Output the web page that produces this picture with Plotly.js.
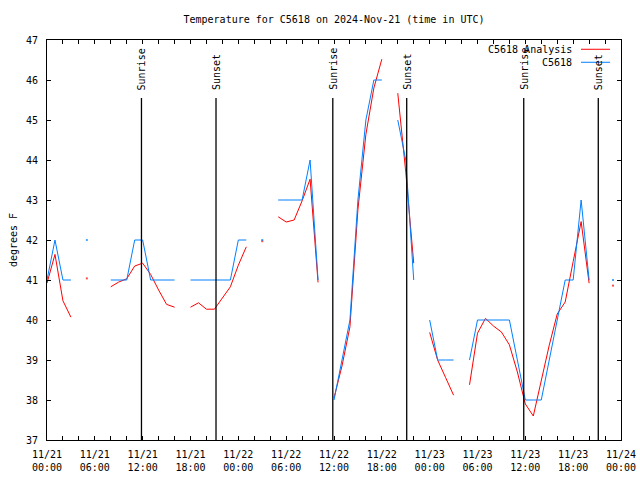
<!DOCTYPE html>
<html>
<head>
<meta charset="utf-8">
<script src="https://cdn.plot.ly/plotly-3.0.1.min.js"></script>
<style>html,body{margin:0;padding:0;background:#fff;}#chart{width:640px;height:480px;}</style>
</head>
<body>
<div id="chart"></div>
<script>
// Hours since 2024-11-21 00:00 UTC
const hours = [0,1,2,3,4,5,6,7,8,9,10,11,12,13,14,15,16,17,18,19,20,21,22,23,24,25,26,27,28,29,30,31,32,33,34,35,36,37,38,39,40,41,42,43,44,45,46,47,48,49,50,51,52,53,54,55,56,57,58,59,60,61,62,63,64,65,66,67,68,69,70,71];
// Observed C5618 temperature (deg F); null = missing
const observed = [41,42,41,41,null,42,null,null,41,41,41,42,42,41,41,41,41,null,41,41,41,41,41,41,42,42,null,42,null,43,43,43,43,44,41,null,38,39,40,43,45,46,46,null,45,44,41,null,40,39,39,39,null,39,40,40,40,40,40,39,38,38,38,39,40,41,41,43,41,null,null,41];
// C5618 Analysis (deg F)
const analysis = [40.92,41.64,40.48,40.07,null,41.04,null,null,40.83,40.95,41.03,41.35,41.42,41.14,40.75,40.39,40.32,null,40.32,40.43,40.27,40.27,40.55,40.83,41.37,41.83,null,41.97,null,42.58,42.45,42.5,42.98,43.52,40.94,null,38.05,38.85,39.83,42.76,44.64,45.8,46.52,null,45.67,43.7,41.42,null,39.69,39.0,38.56,38.12,null,38.38,39.67,40.04,39.85,39.7,39.38,38.7,37.9,37.6,38.48,39.37,40.15,40.45,41.46,42.46,40.92,null,null,40.86];
const seriesNames = ["C5618 Analysis","C5618"];
const seriesColors = ["#ff0000","#0080ff"];
// Sun events (hours since 11/21 00:00)
const sunLabels = ["Sunrise","Sunset","Sunrise","Sunset","Sunrise","Sunset"];
const sunHours = [11.85,21.2,35.85,45.12,59.8,69.15];
// X tick labels
const tickHours = [0,6,12,18,24,30,36,42,48,54,60,66,72];
const tickDates = ["11/21","11/21","11/21","11/21","11/22","11/22","11/22","11/22","11/23","11/23","11/23","11/23","11/24"];
const tickTimes = ["00:00","06:00","12:00","18:00","00:00","06:00","12:00","18:00","00:00","06:00","12:00","18:00","00:00"];

const FONT = {family:"DejaVu Sans Mono, Liberation Mono, monospace", size:10, color:"#000"};

function isoSizes(arr){
  return arr.map((v,i)=>{
    if(v===null) return 0;
    const prev = i>0 ? arr[i-1] : null;
    const next = i<arr.length-1 ? arr[i+1] : null;
    return (prev===null && next===null) ? 2 : 0;
  });
}

const traces = [analysis, observed].map((vals,k)=>({
  x: hours, y: vals, type:"scatter", mode:"lines+markers",
  name: seriesNames[k], connectgaps:false,
  line:{color:seriesColors[k], width:1},
  marker:{color:seriesColors[k], size:isoSizes(vals), symbol:"square", line:{width:0}},
  showlegend:false, hoverinfo:"skip"
}));

const shapes = [];
const annotations = [];
sunHours.forEach((h,i)=>{
  shapes.push({type:"line", xref:"x", yref:"paper", x0:h, x1:h, y0:0, y1:0.855, line:{color:"#000", width:1.3}});
  annotations.push({xref:"x", yref:"paper", x:h, y:0.87, text:sunLabels[i], textangle:-90,
    xanchor:"center", yanchor:"bottom", showarrow:false, font:FONT});
});
// legend (text left, sample right)
const legY = [0.9768, 0.9443];
seriesNames.forEach((n,i)=>{
  annotations.push({xref:"paper", yref:"paper", x:0.9181, y:legY[i], text:n, xanchor:"right", yanchor:"middle", showarrow:false, font:FONT});
  shapes.push({type:"line", xref:"paper", yref:"paper", x0:0.9303, x1:0.9808, y0:legY[i], y1:legY[i], line:{color:seriesColors[i], width:1}});
});

const layout = {
  width:640, height:480,
  margin:{l:47, r:19, t:40, b:40, pad:0},
  paper_bgcolor:"#fff", plot_bgcolor:"#fff",
  font:FONT,
  title:{text:"Temperature for C5618 on 2024-Nov-21 (time in UTC)", font:FONT, xref:"paper", x:0.5, xanchor:"center", y:0.96, yanchor:"middle"},
  xaxis:{range:[0,72], tickmode:"array", tickvals:tickHours,
    ticktext:tickHours.map((h,i)=>tickDates[i]+"<br>"+tickTimes[i]),
    ticks:"inside", ticklen:4, tickcolor:"#000", mirror:"ticks", showline:true, linecolor:"#000", linewidth:1,
    showgrid:false, zeroline:false, tickfont:FONT, ticklabelstandoff:5,
    minor:{tick0:0, dtick:2, ticks:"inside", ticklen:4, tickcolor:"#000", showgrid:false}},
  yaxis:{range:[37,47], dtick:1, tick0:37, ticks:"inside", ticklen:4, tickcolor:"#000", mirror:"ticks",
    showline:true, linecolor:"#000", linewidth:1, showgrid:false, zeroline:false, tickfont:FONT, ticklabelstandoff:6,
    title:{text:"degrees F", font:FONT, standoff:6}},
  shapes:shapes, annotations:annotations, showlegend:false
};

Plotly.newPlot("chart", traces, layout, {staticPlot:true, displayModeBar:false});
</script>
</body>
</html>
